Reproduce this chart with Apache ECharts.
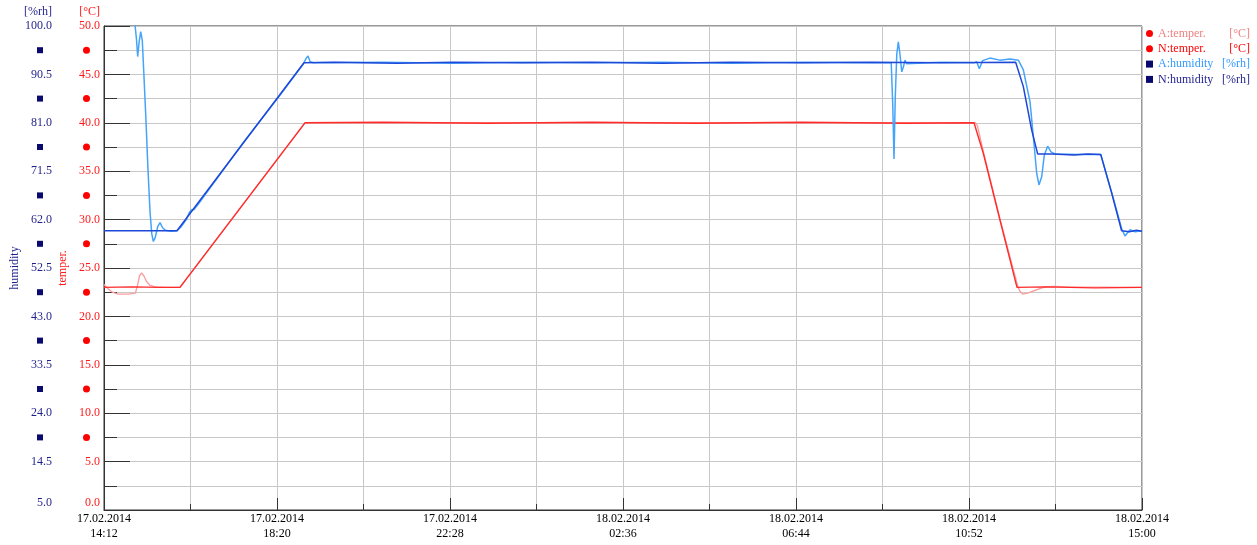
<!DOCTYPE html>
<html>
<head>
<meta charset="utf-8">
<script src="https://cdn.jsdelivr.net/npm/echarts@6/dist/echarts.min.js"></script>
<style>html,body{margin:0;padding:0;background:#fff}#c{width:1257px;height:545px}</style>
</head>
<body>
<div id="c"></div>
<script>
// ---- DATA (x = minutes since 17.02.2014 14:12) ----
const startTime = '17.02.2014 14:12';
const xMaxMinutes = 1488;         // 18.02.2014 15:00
const xLabelStep = 248;           // 4h08m
const temperTicks = [0, 5, 10, 15, 20, 25, 30, 35, 40, 45, 50];
const humidityTicks = [5.0, 14.5, 24.0, 33.5, 43.0, 52.5, 62.0, 71.5, 81.0, 90.5, 100.0];

const aTemper = [[0,23.3],[5,22.9],[12,22.5],[20,22.3],[35,22.3],[45,22.4],[48,23.2],[51,24.2],[54,24.5],[57,24.2],[61,23.6],[66,23.2],[74,23.05],[90,23.0],[108.9,23.0],[288.1,40.0],[700,40.0],[1249,40.0],[1252,39.7],[1261,36.9],[1285,29.9],[1310,23.1],[1313,22.6],[1317.4,22.3],[1324,22.4],[1335,22.7],[1349,23.05],[1362,23.1],[1380,23.05],[1488,23.0]];

const nTemper = [[0,23.0],[40,23.05],[80,23.0],[108.9,23.0],[288.1,40.0],[400,40.05],[550,39.95],[700,40.05],[850,39.95],[1000,40.05],[1150,39.95],[1247.2,40.0],[1260.5,36.85],[1284.4,29.96],[1308.8,23.0],[1350,23.05],[1420,22.95],[1488,23.0]];

const aHumidity = [[44,100.8],[46.5,97.5],[48.3,94.0],[50.5,97.0],[52.6,98.9],[54.9,97.2],[57,91],[60,82],[63,72],[66,63.5],[68.5,59.2],[70.7,57.7],[73.5,58.5],[77,60.6],[80.3,61.4],[84,60.4],[88,59.9],[96,59.7],[104.6,59.8],[110,60.5],[118,62.0],[122,63.3],[125,63.9],[129,64.0],[135,65.0],[200,77.2],[250,86.0],[286,92.6],[289.5,93.6],[292.4,94.1],[295.5,93.0],[300,92.8],[400,92.9],[500,92.7],[600,92.9],[700,92.8],[800,92.9],[900,92.7],[1000,92.9],[1100,92.8],[1128.5,92.8],[1130.6,85],[1132.5,73.9],[1134.3,86],[1136.5,94.5],[1138.7,96.9],[1141,94.5],[1143.6,91.0],[1146,92.0],[1148.3,93.3],[1150.5,92.6],[1153,92.8],[1200,92.9],[1248,92.8],[1251,93.0],[1254.8,91.6],[1259.6,93.2],[1270,93.7],[1284,93.3],[1298.8,93.5],[1310.7,93.3],[1317.9,91.4],[1327.5,85.1],[1333.6,76.3],[1337,71.1],[1340.3,68.8],[1344.2,70.4],[1348,74.7],[1352.8,76.4],[1357.5,75.3],[1363.3,74.9],[1400,74.8],[1428.8,74.8],[1444.5,67.4],[1458.8,60.2],[1463.6,58.8],[1470.8,60.0],[1478,59.6],[1488,59.8]];

const nHumidity = [[0,59.8],[104.6,59.8],[286.7,92.8],[330,92.9],[420,92.7],[500,92.9],[600,92.8],[700,92.9],[800,92.7],[900,92.9],[1000,92.8],[1100,92.9],[1200,92.8],[1306.9,92.9],[1317.9,88.1],[1329.8,79.6],[1338.4,74.9],[1360,74.9],[1390,74.7],[1410,74.9],[1428.8,74.8],[1444.5,67.2],[1458.8,59.8],[1470,59.6],[1480,59.9],[1488,59.7]];

// ---- STYLE ----
const SERIF = '"Liberation Serif", "DejaVu Serif", serif';
const RED = '#ff1a1a';
const NAVY = '#1f1f8c';
const GRID = '#c8c8c8';
const AXIS = '#333';

const START_MS = Date.UTC(2014, 1, 17, 14, 12);
function fmtTime(m) {
  const d = new Date(START_MS + m * 60000);
  const p = n => String(n).padStart(2, '0');
  return p(d.getUTCDate()) + '.' + p(d.getUTCMonth() + 1) + '.' + d.getUTCFullYear() + '\n' + p(d.getUTCHours()) + ':' + p(d.getUTCMinutes());
}
const mids = arr => arr.slice(1).map((v, i) => (v + arr[i]) / 2).slice(1);
const isTick = (arr, v) => arr.some(t => Math.abs(t - v) < 1e-6);

const units = {'A:temper.': '[°C]', 'N:temper.': '[°C]', 'A:humidity': '[%rh]', 'N:humidity': '[%rh]'};
const keys = {'A:temper.': 'at', 'N:temper.': 'nt', 'A:humidity': 'ah', 'N:humidity': 'nh'};
const legendColors = {at: '#f08080', nt: '#ff0000', ah: '#3399ff', nh: NAVY};
const legendRich = {};
Object.keys(legendColors).forEach(k => {
  legendRich[k + 'n'] = {width: 64, color: legendColors[k], fontFamily: SERIF, fontSize: 12};
  legendRich[k + 'u'] = {width: 28, align: 'right', color: legendColors[k], fontFamily: SERIF, fontSize: 12};
});

const chart = echarts.init(document.getElementById('c'), null, {renderer: 'canvas'});
chart.setOption({
  animation: false,
  backgroundColor: '#fff',
  grid: {left: 104, right: 115, top: 26, bottom: 35, show: true, borderColor: AXIS, borderWidth: 1, backgroundColor: 'transparent', containLabel: false, outerBoundsMode: 'none'},
  graphic: [
    {type: 'text', x: 52, y: 12, style: {text: '[%rh]', align: 'right', verticalAlign: 'middle', fill: NAVY, font: '12px ' + SERIF}},
    {type: 'text', x: 100, y: 12, style: {text: '[°C]', align: 'right', verticalAlign: 'middle', fill: RED, font: '12px ' + SERIF}}
  ],
  legend: {
    orient: 'vertical', left: 1146, top: 27.5, itemWidth: 7, itemHeight: 7, itemGap: 3.3, padding: 0,
    selectedMode: false,
    textStyle: {fontFamily: SERIF, fontSize: 12, rich: legendRich},
    formatter: name => '{' + keys[name] + 'n|' + name + '}{' + keys[name] + 'u|' + units[name] + '}',
    data: [
      {name: 'A:temper.', icon: 'circle', itemStyle: {color: '#ff0000'}},
      {name: 'N:temper.', icon: 'circle', itemStyle: {color: '#ff0000'}},
      {name: 'A:humidity', icon: 'rect', itemStyle: {color: '#0a0a6e'}},
      {name: 'N:humidity', icon: 'rect', itemStyle: {color: '#0a0a6e'}}
    ]
  },
  xAxis: {
    type: 'value', min: 0, max: xMaxMinutes, interval: xLabelStep,
    axisLine: {show: true, onZero: false, lineStyle: {color: AXIS}},
    axisTick: {show: true, inside: true, length: 12, lineStyle: {color: AXIS}},
    minorTick: {show: true, splitNumber: 2, length: 6, lineStyle: {color: AXIS}},
    splitLine: {show: true, lineStyle: {color: GRID}},
    minorSplitLine: {show: true, lineStyle: {color: GRID}},
    axisLabel: {formatter: fmtTime, color: '#000', fontFamily: SERIF, fontSize: 12, lineHeight: 15.5, margin: 1, showMinLabel: true, showMaxLabel: true}
  },
  yAxis: [
    {
      type: 'value', min: 0, max: 50, interval: 5, position: 'left',
      name: 'temper.', nameLocation: 'middle', nameGap: 35, nameMoveOverlap: false,
      nameTextStyle: {color: RED, fontFamily: SERIF, fontSize: 12},
      axisLine: {show: true, lineStyle: {color: AXIS}},
      axisTick: {show: true, inside: true, length: 26, lineStyle: {color: AXIS}},
      minorTick: {show: true, splitNumber: 2, length: 13, lineStyle: {color: AXIS}},
      splitLine: {show: true, lineStyle: {color: GRID}},
      minorSplitLine: {show: true, lineStyle: {color: GRID}},
      axisLabel: {
        customValues: temperTicks.concat(mids(temperTicks)),
        margin: 4, color: RED, fontFamily: SERIF, fontSize: 12,
        formatter: v => {
          if (isTick(temperTicks, v)) return v === temperTicks[0] ? '{lo|' + v.toFixed(1) + '}' : v.toFixed(1);
          return '{c| }{p| }';
        },
        rich: {
          c: {width: 7, height: 7, borderRadius: 3.5, backgroundColor: '#ff0000'},
          p: {width: 10},
          lo: {color: RED, fontFamily: SERIF, fontSize: 12, padding: [0, 0, 14, 0]}
        }
      }
    },
    {
      type: 'value', min: 5, max: 100, position: 'left', offset: 48,
      name: 'humidity', nameLocation: 'middle', nameGap: 35, nameMoveOverlap: false,
      nameTextStyle: {color: NAVY, fontFamily: SERIF, fontSize: 12},
      axisLine: {show: false}, axisTick: {show: false}, splitLine: {show: false},
      axisLabel: {
        customValues: humidityTicks.concat(mids(humidityTicks)),
        margin: 4, color: NAVY, fontFamily: SERIF, fontSize: 12,
        formatter: v => {
          if (isTick(humidityTicks, v)) return v === humidityTicks[0] ? '{lo|' + v.toFixed(1) + '}' : v.toFixed(1);
          return '{s| }{p| }';
        },
        rich: {
          s: {width: 6, height: 6, backgroundColor: '#0a0a6e'},
          p: {width: 9},
          lo: {color: NAVY, fontFamily: SERIF, fontSize: 12, padding: [0, 0, 14, 0]}
        }
      }
    }
  ],
  series: [
    {name: 'A:temper.', type: 'line', yAxisIndex: 0, data: aTemper, symbol: 'none', silent: true,
     lineStyle: {color: '#f9a0a0', width: 1.4}, itemStyle: {color: '#f9a0a0'}, z: 2},
    {name: 'N:temper.', type: 'line', yAxisIndex: 0, data: nTemper, symbol: 'none', silent: true,
     lineStyle: {color: '#ff2b2b', width: 1.4}, itemStyle: {color: '#ff2b2b'}, z: 3},
    {name: 'A:humidity', type: 'line', yAxisIndex: 1, data: aHumidity, symbol: 'none', silent: true,
     lineStyle: {color: '#44a4fa', width: 1.5}, itemStyle: {color: '#44a4fa'}, z: 4},
    {name: 'N:humidity', type: 'line', yAxisIndex: 1, data: nHumidity, symbol: 'none', silent: true,
     lineStyle: {color: '#1f48d8', width: 1.5}, itemStyle: {color: '#1f48d8'}, z: 5}
  ]
});
</script>
</body>
</html>
